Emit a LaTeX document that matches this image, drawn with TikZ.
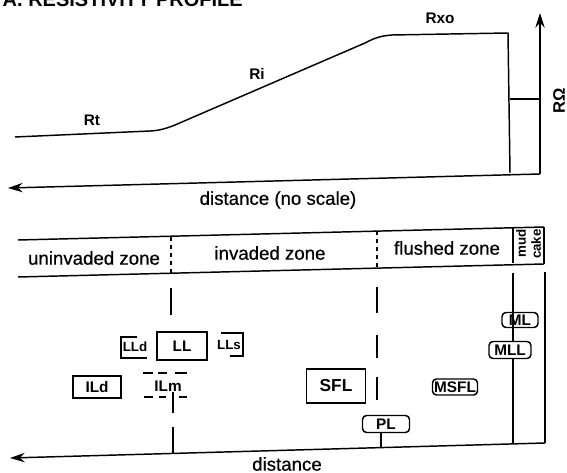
\documentclass[tikz,border=0pt]{standalone}
\usepackage{fontspec}
\setmainfont{Liberation Sans}
\newfontfamily\medfont{Liberation Sans}[FakeBold=0.6]
\usetikzlibrary{arrows.meta}
\begin{document}
\begin{tikzpicture}[x=0.75pt,y=-0.75pt,line width=1.1pt,
  lab/.style={font=\fontsize{11.5}{13}\selectfont\bfseries,inner sep=0},
  zone/.style={font=\fontsize{14}{16}\selectfont\medfont,inner sep=0},
  sqbox/.style={draw,fill=white,inner sep=0,font=\fontsize{11.5}{13}\selectfont\bfseries},
  rbox/.style={sqbox,rounded corners=3pt},
  arr/.style={-{Stealth[length=11pt,width=7pt]}},
  zdash/.style={line width=0.9pt,dash pattern=on 3pt off 3pt},
  thin/.style={line width=0.9pt}]
\useasboundingbox (0,0) rectangle (567,473);
\clip (0,0) rectangle (567,473);
% title (cut off at the top edge, as in the reference)
\node[anchor=base west,inner sep=0,font=\fontsize{15}{17}\selectfont\bfseries] (title) at (2,6.5) {A. RESISTIVITY PROFILE};
% ---- profile
\coordinate (p0) at (15,137);
\coordinate (p3) at (508,33);
\coordinate (p4) at (510,173);
\draw (p0) -- (150,131) .. controls (160,130.5) and (166,128.5) .. (175,125) -- (365,43) .. controls (372,39.5) and (378,36) .. (392,35) -- (p3) -- (p4);
\coordinate (ax0) at (540,174);
\coordinate (axtop) at (540,13);
\coordinate (dl) at (8,188);
\coordinate (h0) at (510,99);
\coordinate (h1) at (540,99);
\draw[arr] (ax0) -- (axtop);
\draw (h0) -- (h1);
\draw[arr] (ax0) -- (dl);
\node[lab] (rt) at (92,120) {Rt};
\node[lab] (ri) at (257,74) {Ri};
\node[lab] (rxo) at (440,18) {Rxo};
\node[lab,rotate=90,font=\fontsize{12.5}{14}\selectfont\bfseries] (rohm) at (559,101) {RΩ};
\node[zone] (dist1) at (278,200) {distance (no scale)};
% ---- zone strip
\coordinate (st0) at (18,240);
\coordinate (st1) at (544,227);
\coordinate (sb0) at (18,277);
\coordinate (sb1) at (544,264);
\coordinate (m0) at (513,228);
\coordinate (m1) at (513,263.5);
\draw (st0) -- (st1);
\draw (sb0) -- (sb1);
\draw[thin] (m0) -- (m1);
\draw[thin] (st1) -- (sb1);
\draw[zdash] (171,237) -- (171,274);
\draw[zdash] (377,231) -- (377,268);
\node[zone] (z1) at (94,258) {uninvaded zone};
\node[zone] (z2) at (270,253) {invaded zone};
\node[zone] (z3) at (447,248) {flushed zone};
\node[inner sep=0,rotate=90,font=\fontsize{10}{10}\selectfont\bfseries] (mud) at (521,243) {mud};
\node[inner sep=0,rotate=90,font=\fontsize{10}{10}\selectfont\bfseries] (cake) at (536,244) {cake};
% ---- lower panel lines
\coordinate (bR) at (545,443);
\coordinate (bL) at (10,458);
\draw[arr] (bR) -- (bL);
\draw (545,272) -- (bR);
\draw (513,273) -- (513,444);
\draw (171,288) -- (171,315);
\draw (173,427) -- (173,453.5);
\draw (173,392) -- (173,413);
\draw (377,287) -- (377,313);
\draw (377,335) -- (377,358);
\draw (377,377) -- (377,400);
% ---- tools
\node[sqbox,minimum width=50pt*0.75,minimum height=28pt*0.75] (LL) at (182,346) {LL};
\draw[thin] (137,337) -- (121,337) -- (121,358) -- (147,358);
\node[inner sep=0,font=\fontsize{10}{11}\selectfont\bfseries] (LLd) at (135,347) {LLd};
\draw[thin] (221,333) -- (243,333) -- (243,356) -- (230,356);
\node[inner sep=0,font=\fontsize{10}{11}\selectfont\bfseries] (LLs) at (229,345) {LLs};
\node[sqbox,minimum width=48pt*0.75,minimum height=22pt*0.75] (ILd) at (97,387) {ILd};
\node[inner sep=0,font=\fontsize{11.5}{13}\selectfont\bfseries] (ILm) at (168,386) {ILm};
\draw[thin] (143,373) -- (153,373) (158,373) -- (167,373) (175,373) -- (187,373);
\draw[thin] (144,397) -- (153,397) (159,397) -- (166,397) (179,397) -- (187,397);
\node[sqbox,minimum width=59pt*0.75,minimum height=34pt*0.75,font=\fontsize{13}{15}\selectfont\bfseries] (SFL) at (336,386) {SFL};
\node[rbox,minimum width=47pt*0.75,minimum height=17pt*0.75] (PL) at (386,424) {PL};
\coordinate (plb) at (381,447.6);
\draw (PL.south -| plb) -- (plb);
\node[rbox,minimum width=45pt*0.75,minimum height=16pt*0.75] (MSFL) at (455,387) {MSFL};
\node[rbox,fill=none,minimum width=36pt*0.75,minimum height=15pt*0.75] (ML) at (520,320) {ML};
\node[rbox,minimum width=42pt*0.75,minimum height=17pt*0.75] (MLL) at (510,350) {MLL};
\node[zone] (dist2) at (287,464) {distance};
\end{tikzpicture}
\end{document}
